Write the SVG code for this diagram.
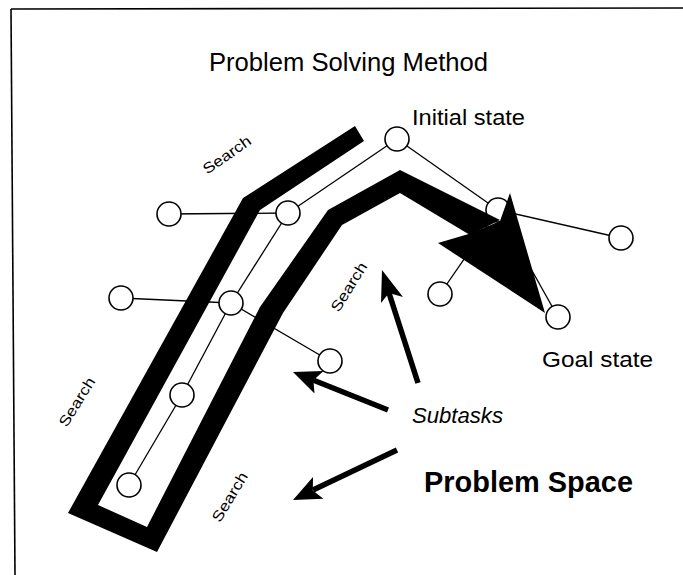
<svg xmlns="http://www.w3.org/2000/svg" width="683" height="575" viewBox="0 0 683 575">
<style>
.frame{stroke:#000;stroke-width:1.6;fill:none}
.edge{stroke:#000;stroke-width:1.3;fill:none}
.node{fill:#fff;stroke:#000;stroke-width:1.6}
.band{fill:#000}
.shaft{stroke:#000;stroke-width:5.5;fill:none}
.head{fill:#000}
.t{font-family:"Liberation Sans",Arial,sans-serif;fill:#000}
.lbl{font-size:22px}
.srch{font-size:15px}
</style>
<rect width="683" height="575" fill="#fff"/>
<g id="frame">
<line class="frame" x1="11" y1="9" x2="683" y2="8"/>
<line class="frame" x1="11" y1="9" x2="15" y2="575"/>
</g>
<g id="connectors">
<line class="edge" x1="397" y1="139" x2="288" y2="213"/>
<line class="edge" x1="288" y1="213" x2="169" y2="214"/>
<line class="edge" x1="288" y1="213" x2="231" y2="303"/>
<line class="edge" x1="231" y1="303" x2="121" y2="298"/>
<line class="edge" x1="231" y1="303" x2="330" y2="361"/>
<line class="edge" x1="231" y1="303" x2="182" y2="395"/>
<line class="edge" x1="182" y1="395" x2="129" y2="485"/>
<line class="edge" x1="397" y1="139" x2="498" y2="210"/>
<line class="edge" x1="498" y1="210" x2="621" y2="238"/>
<line class="edge" x1="498" y1="210" x2="558" y2="317"/>
<line class="edge" x1="440" y1="294" x2="498" y2="210"/>
</g>
<g id="n-initial"><circle class="node" cx="397" cy="139" r="12"/></g>
<g id="n1"><circle class="node" cx="288" cy="213" r="12"/></g>
<g id="n2"><circle class="node" cx="169" cy="214" r="12"/></g>
<g id="n3"><circle class="node" cx="231" cy="303" r="12"/></g>
<g id="n4"><circle class="node" cx="121" cy="298" r="12"/></g>
<g id="n5"><circle class="node" cx="330" cy="361" r="12"/></g>
<g id="n6"><circle class="node" cx="182" cy="395" r="12"/></g>
<g id="n7"><circle class="node" cx="129" cy="485" r="12"/></g>
<g id="n8"><circle class="node" cx="498" cy="210" r="12"/></g>
<g id="n9"><circle class="node" cx="621" cy="238" r="12"/></g>
<g id="n10"><circle class="node" cx="440" cy="294" r="12"/></g>
<g id="n-goal"><circle class="node" cx="558" cy="317" r="12"/></g>
<g id="search-path">
<polygon class="band" points="355,126 243,198 68,513 157,552 283,313 342,225 400,193 470,235 500,220 400,170 328,210 260,307 147,527 98,505 260,210 364,141"/>
<polygon class="band" points="438,243 472,233 500,221 510,193 545,313"/>
</g>
<g id="subtask-arrows">
<line class="shaft" x1="418" y1="383" x2="389" y2="293"/>
<polygon class="head" points="382,270 403,297 389,293 381,303"/>
<line class="shaft" x1="388" y1="410" x2="313" y2="380"/>
<polygon class="head" points="293,372 323.5,371 313.4,380.2 314.5,393.5"/>
<line class="shaft" x1="397" y1="450" x2="313" y2="490"/>
<polygon class="head" points="293,500 313,477 312.8,490.5 323.4,498.7"/>
</g>
<g id="labels">
<text class="t" x="209" y="71" font-size="25" textLength="279" lengthAdjust="spacingAndGlyphs">Problem Solving Method</text>
<text class="t lbl" x="412" y="125" textLength="113" lengthAdjust="spacingAndGlyphs">Initial state</text>
<text class="t lbl" x="542" y="367" textLength="111" lengthAdjust="spacingAndGlyphs">Goal state</text>
<text class="t lbl" x="412" y="423" font-style="italic" textLength="91" lengthAdjust="spacingAndGlyphs">Subtasks</text>
<text class="t" x="424" y="492" font-size="29" font-weight="bold" textLength="209" lengthAdjust="spacingAndGlyphs">Problem Space</text>
<g transform="translate(227,155) rotate(-35)"><text class="t srch" x="0" y="5" text-anchor="middle" textLength="55" lengthAdjust="spacingAndGlyphs">Search</text></g>
<g transform="translate(349,287) rotate(-58)"><text class="t srch" x="0" y="5" text-anchor="middle" textLength="55" lengthAdjust="spacingAndGlyphs">Search</text></g>
<g transform="translate(77,402) rotate(-58)"><text class="t srch" x="0" y="5" text-anchor="middle" textLength="55" lengthAdjust="spacingAndGlyphs">Search</text></g>
<g transform="translate(230,497) rotate(-59)"><text class="t srch" x="0" y="5" text-anchor="middle" textLength="55" lengthAdjust="spacingAndGlyphs">Search</text></g>
</g>
</svg>
